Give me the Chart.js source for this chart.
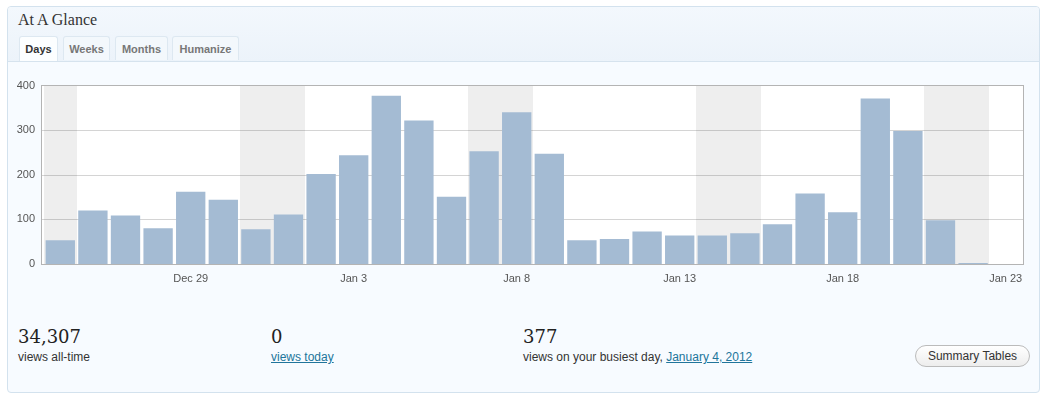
<!DOCTYPE html>
<html>
<head>
<meta charset="utf-8">
<script src="https://cdn.jsdelivr.net/npm/chart.js@4/dist/chart.umd.min.js"></script>
<style>
  html, body { margin:0; padding:0; background:#ffffff; width:1046px; height:400px; overflow:hidden; }
  body { position:relative; font-family:"Liberation Sans", Arial, sans-serif; color:#333; }
  .panel { position:absolute; left:7px; top:6px; width:1033px; height:387px; border:1px solid #d3e2ee; border-radius:4px; background:#f7fbff; box-sizing:border-box; overflow:hidden; }
  .head { position:absolute; left:0; top:0; width:100%; height:54px; background:linear-gradient(#f3f8fd,#ecf3fa); border-bottom:1px solid #d6e3ee; }
  .title { position:absolute; left:10px; top:4px; font-family:"Liberation Serif", Georgia, serif; font-size:16px; color:#333; white-space:nowrap; }
  .tab { position:absolute; top:29px; height:24px; border:1px solid #dde8f1; border-bottom:none; border-radius:3px 3px 0 0; background:#f3f8fc; font-size:11px; font-weight:bold; color:#777; line-height:24px; text-align:center; box-sizing:border-box; }
  .tab.active { background:#fcfeff; color:#333; height:25px; }
  .chartbox { position:absolute; left:10px; top:70px; width:1026px; height:220px; }
  .big { position:absolute; font-family:"DejaVu Serif", Georgia, serif; font-size:18px; color:#222; white-space:nowrap; }
  .small { position:absolute; font-size:12px; color:#333; white-space:nowrap; }
  a { color:#21759b; text-decoration:underline; }
  .btn { position:absolute; left:915px; top:345px; width:115px; height:22px; border:1px solid #bbbbbb; border-radius:11px; background:linear-gradient(#ffffff,#ededed); box-sizing:border-box; font-size:12px; color:#333; text-align:center; line-height:20px; }
</style>
</head>
<body>
<div class="panel">
  <div class="head">
    <div class="title">At A Glance</div>
    <div class="tab active" style="left:11px;width:39px;">Days</div>
    <div class="tab" style="left:55px;width:47px;">Weeks</div>
    <div class="tab" style="left:107px;width:53px;">Months</div>
    <div class="tab" style="left:164px;width:67px;">Humanize</div>
  </div>
</div>
<div class="chartbox"><canvas id="c"></canvas></div>

<div class="big" style="left:18px;top:326px;">34,307</div>
<div class="small" style="left:18px;top:350px;">views all-time</div>
<div class="big" style="left:271px;top:326px;">0</div>
<div class="small" style="left:271px;top:350px;"><a>views today</a></div>
<div class="big" style="left:523px;top:326px;">377</div>
<div class="small" style="left:523px;top:350px;">views on your busiest day, <a>January 4, 2012</a></div>
<div class="btn">Summary Tables</div>

<script>
const days = ["Dec 25","Dec 26","Dec 27","Dec 28","Dec 29","Dec 30","Dec 31","Jan 1","Jan 2","Jan 3",
              "Jan 4","Jan 5","Jan 6","Jan 7","Jan 8","Jan 9","Jan 10","Jan 11","Jan 12","Jan 13",
              "Jan 14","Jan 15","Jan 16","Jan 17","Jan 18","Jan 19","Jan 20","Jan 21","Jan 22","Jan 23"];
const views = [53,120,109,80,162,144,78,111,202,244,
               377,322,151,253,340,247,53,56,73,64,
               64,69,89,158,116,371,298,98,2,0];
const tickLabels = ["Dec 29","Jan 3","Jan 8","Jan 13","Jan 18","Jan 23"];
const weekendDays = ["Dec 25","Dec 31","Jan 1","Jan 7","Jan 8","Jan 14","Jan 15","Jan 21","Jan 22"];
const yTicks = [0,100,200,300,400];

const plotDeco = {
  id: 'plotDeco',
  beforeDraw(chart) {
    const {ctx, chartArea:a, scales:{x}} = chart;
    ctx.save();
    ctx.fillStyle = '#ffffff';
    ctx.fillRect(a.left-2, a.top, a.right-a.left+4, a.bottom-a.top);
    const half = (x.getPixelForValue(1) - x.getPixelForValue(0)) / 2;
    ctx.fillStyle = '#eeeeee';
    weekendDays.forEach(d => {
      const i = days.indexOf(d);
      const cx = x.getPixelForValue(i);
      const l = Math.round(cx-half), r = Math.round(cx+half);
      ctx.fillRect(l, a.top, r-l, a.bottom-a.top);
    });
    ctx.restore();
  },
  beforeDatasetsDraw(chart) {
    const {ctx, chartArea:a, scales:{y}} = chart;
    ctx.save();
    ctx.strokeStyle = 'rgba(0,0,0,0.17)';
    ctx.lineWidth = 1;
    yTicks.forEach(v => {
      if (v === 0 || v === 400) return;
      const py = Math.round(y.getPixelForValue(v)) + 0.5;
      ctx.beginPath();
      ctx.moveTo(a.left-2, py);
      ctx.lineTo(a.right+2, py);
      ctx.stroke();
    });
    ctx.restore();
  },
  afterDatasetsDraw(chart) {
    const {ctx, chartArea:a, scales:{y}} = chart;
    ctx.save();
    ctx.strokeStyle = '#b4b4b4';
    ctx.lineWidth = 1;
    const top = Math.round(y.getPixelForValue(400)) - 0.5;
    const bot = Math.round(y.getPixelForValue(0)) + 0.5;
    ctx.strokeRect(Math.round(a.left)-2.5, top, Math.round(a.right-a.left)+4, bot-top);
    ctx.restore();
  }
};

new Chart(document.getElementById('c'), {
  type: 'bar',
  data: {
    labels: days,
    datasets: [{
      data: views,
      backgroundColor: '#a4bbd3',
      borderWidth: 0,
      categoryPercentage: 1.0,
      barPercentage: 0.9
    }]
  },
  options: {
    responsive: true,
    maintainAspectRatio: false,
    animation: false,
    layout: { padding: { left: 0, right: 14, top: 14, bottom: 0 } },
    plugins: { legend: { display: false }, tooltip: { enabled: false } },
    scales: {
      x: {
        grid: { display: false, drawTicks: false },
        border: { display: false },
        afterFit(s) { s.height = 26; },
        ticks: {
          autoSkip: false, maxRotation: 0, padding: 8,
          color: '#555', font: { family: 'Liberation Sans', size: 11 },
          callback(v, i) { const l = days[i]; return tickLabels.includes(l) ? l : ''; }
        }
      },
      y: {
        min: 0, max: 400,
        grid: { display: false, drawTicks: false },
        border: { display: false },
        afterFit(s) { s.width = 34; },
        afterBuildTicks(s) { s.ticks = yTicks.map(v => ({ value: v })); },
        ticks: {
          padding: 9, color: '#555', font: { family: 'Liberation Sans', size: 11 }
        }
      }
    }
  },
  plugins: [plotDeco]
});
</script>
</body>
</html>
